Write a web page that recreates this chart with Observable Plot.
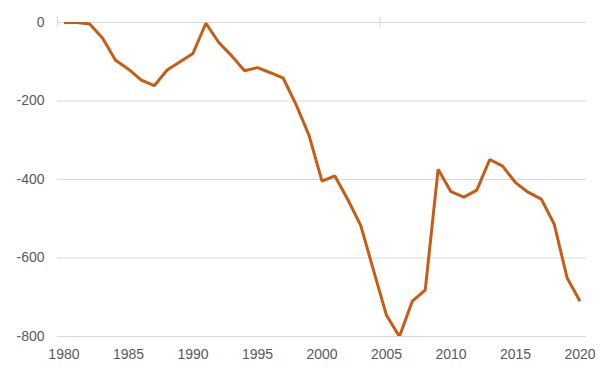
<!DOCTYPE html>
<html>
<head>
<meta charset="utf-8">
<script src="https://cdn.jsdelivr.net/npm/d3@7"></script>
<script src="https://cdn.jsdelivr.net/npm/@observablehq/plot@0.6"></script>
<style>
  html, body { margin: 0; padding: 0; background: #ffffff; }
</style>
</head>
<body>
<div id="chart"></div>
<script>
const years = d3.range(1980, 2021);
const values = [
  0, 0, -4, -40, -96, -119, -147, -161, -121, -100,
  -79, -2, -51, -85, -123, -115, -128, -142, -210, -288,
  -404, -391, -451, -517, -632, -746, -800, -710, -682, -374,
  -431, -445, -427, -349, -366, -408, -433, -450, -514, -651,
  -710
];
const yTicks = [0, -200, -400, -600, -800];
const xTicks = [1980, 1985, 1990, 1995, 2000, 2005, 2010, 2015, 2020];
const axisTickYears = [1979.5, 2004.5];

const data = years.map((year, i) => ({year, value: values[i]}));

const chart = Plot.plot({
  width: 613,
  height: 383,
  marginLeft: 57,
  marginRight: 27,
  marginTop: 22,
  marginBottom: 47,
  style: {
    fontFamily: "'Liberation Sans', Arial, sans-serif",
    fontSize: "14px",
    color: "#595959",
    background: "#ffffff"
  },
  x: {domain: [1979.5, 2020.5]},
  y: {domain: [-800, 0]},
  marks: [
    Plot.gridY(yTicks, {stroke: "#d9d9d9", strokeOpacity: 1, strokeWidth: 1}),
    Plot.ruleX(axisTickYears, {y1: 0, y2: 0, insetTop: -5, insetBottom: -5, stroke: "#d9d9d9", strokeWidth: 1.2}),
    Plot.axisY(yTicks, {tickSize: 0, tickPadding: 13, tickFormat: d => String(d), label: null, fill: "#595959"}),
    Plot.axisX(xTicks, {tickSize: 0, tickPadding: 13, tickFormat: d => String(d), label: null, fill: "#595959"}),
    Plot.line(data, {x: "year", y: "value", stroke: "#c75c14", strokeWidth: 3, strokeLinejoin: "miter", strokeLinecap: "butt", clip: true})
  ]
});
document.getElementById("chart").append(chart);
</script>
</body>
</html>
